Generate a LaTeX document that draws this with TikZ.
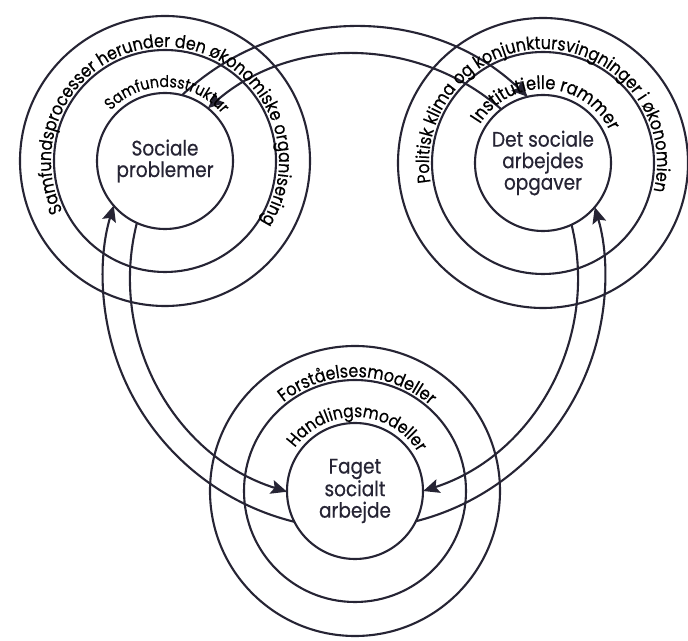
\documentclass[tikz,border=0pt]{standalone}
\usepackage{fontspec}
\setmainfont{Poppins}[FakeStretch=0.88,FakeBold=0.5]
\usetikzlibrary{calc,arrows.meta,decorations.text}
\definecolor{ink}{RGB}{38,36,52}
\newcommand{\rfa}{\fontsize{18}{20}\selectfont}
\newcommand{\rfb}{\fontsize{16.1}{20}\selectfont}
\newcommand{\rfc}{\fontsize{18.5}{20}\selectfont}
\newcommand{\rfd}{\fontsize{17.5}{20}\selectfont}
\begin{document}
\begin{tikzpicture}[x=1pt,y=1pt,color=ink,
  ring/.style={draw,line width=2.1pt},
  core/.style={circle,draw,line width=2.1pt,minimum size=136pt,inner sep=0pt,
    align=center,font=\fontsize{21}{21.5}\selectfont},
  link/.style={draw,line width=2.1pt,-{Stealth[length=16pt,width=14pt,inset=3pt]}},
  ringtext/.style={decorate,decoration={text along path,text align=center,text={#1}}}]
\fill[white] (0,0) rectangle (688,640);
\useasboundingbox (0,0) rectangle (688,640);
% centres
\coordinate (L) at (165,479);
\coordinate (R) at (543,477);
\coordinate (B) at (355,149);
\coordinate (O) at (354,362);
% rings
\foreach \c in {L,R,B}{
  \draw[ring] (\c) circle[radius=145];
  \draw[ring] (\c) circle[radius=111];
}
% cores
\node[core] (Lc) at (L) {Sociale\\problemer};
\node[core] (Rc) at (R) {Det sociale\\arbejdes\\opgaver};
\node[core] (Bc) at (B) {Faget\\socialt\\arbejde};
% connector start points
\coordinate (t1) at ($(O)+(133.2:251)$);
\coordinate (t2) at ($(O)+(48.9:224)$);
\coordinate (l1) at ($(O)+(256.3:251)$);
\coordinate (l2) at ($(O)+(165.7:224)$);
\coordinate (r1) at ($(O)+(-75.7:251)$);
\coordinate (r2) at ($(O)+(13.8:224)$);
% connectors
\draw[link] (t1) arc[start angle=133.2,end angle=46.2,radius=251];
\draw[link] (t2) arc[start angle=48.9,end angle=130.7,radius=224];
\draw[link] (l1) arc[start angle=256.3,end angle=163.2,radius=251];
\draw[link] (l2) arc[start angle=165.7,end angle=252.6,radius=224];
\draw[link] (r1) arc[start angle=-75.7,end angle=16.4,radius=251];
\draw[link] (r2) arc[start angle=13.8,end angle=-72.0,radius=224];
% ring texts (paths centred on the text's middle angle)
\path[ringtext={|\rfa|Samfundsprocesser herunder den økonomiske organisering}]
  ($(L)+(236.8:114)$) arc[start angle=236.8,end angle=-63.2,radius=114];
\path[ringtext={|\rfb|Samfundsstruktur}]
  ($(L)+(208.3:74)$) arc[start angle=208.3,end angle=-31.7,radius=74];
\path[ringtext={|\rfa|Politisk klima og konjunktursvingninger i økonomien}]
  ($(R)+(237.8:114)$) arc[start angle=237.8,end angle=-62.2,radius=114];
\path[ringtext={|\rfc|Institutielle rammer}]
  ($(R)+(207:74)$) arc[start angle=207,end angle=-33,radius=74];
\path[ringtext={|\rfa|Forståelsesmodeller}]
  ($(B)+(238.8:114)$) arc[start angle=238.8,end angle=-61.2,radius=114];
\path[ringtext={|\rfd|Handlingsmodeller}]
  ($(B)+(207.9:74)$) arc[start angle=207.9,end angle=-32.1,radius=74];
\end{tikzpicture}
\end{document}
